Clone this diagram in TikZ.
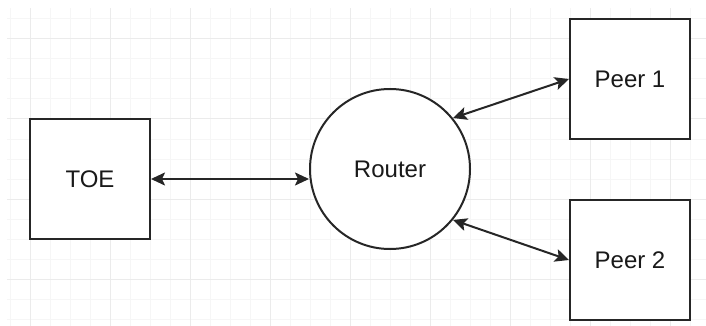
\documentclass[tikz,border=0pt]{standalone}
\usepackage{fontspec}
\setmainfont{Liberation Sans}
\usetikzlibrary{arrows.meta}
\tikzset{minorline/.style={gray!7,line width=1pt},
         majorline/.style={gray!16,line width=1pt},
         box/.style={draw=black!85,line width=2pt,fill=white,minimum size=120pt,inner sep=0pt,
                     font=\fontsize{24pt}{28pt}\selectfont,text=black!90},
         hub/.style={draw=black!85,line width=2pt,fill=white,circle,minimum size=160pt,inner sep=0pt,
                     font=\fontsize{24pt}{28pt}\selectfont,text=black!90},
         link/.style={black!85,line width=2pt,{Stealth[length=14pt,width=13pt,inset=3pt]}-{Stealth[length=14pt,width=13pt,inset=3pt]}}}

\begin{document}
\begin{tikzpicture}[x=1pt,y=-1pt]
   \useasboundingbox (0,0) rectangle (706,326);
   % background grid
   \begin{scope}
    \clip (7,8) rectangle (706,326);
    \foreach \x in {10,30,...,710} \draw[minorline] (\x,8) -- (\x,326);
    \foreach \y in {19,39,...,339} \draw[minorline] (7,\y) -- (706,\y);
    \foreach \x in {30,110,...,670} \draw[majorline] (\x,8) -- (\x,326);
    \foreach \y in {39,119,...,319} \draw[majorline] (7,\y) -- (706,\y);
   \end{scope}

   \node[box] (toe)   at ( 90,179) {TOE};
   \node[hub] (router) at (390,169) {Router};
   \node[box] (peer1) at (630, 79) {Peer 1};
   \node[box] (peer2) at (630,260) {Peer 2};

   \draw[link] (toe.east) -- (toe.east -| router.west);
   \draw[link] (router.39)  -- (peer1.west);
   \draw[link] (router.-39) -- (peer2.west);
\end{tikzpicture}
\end{document}
